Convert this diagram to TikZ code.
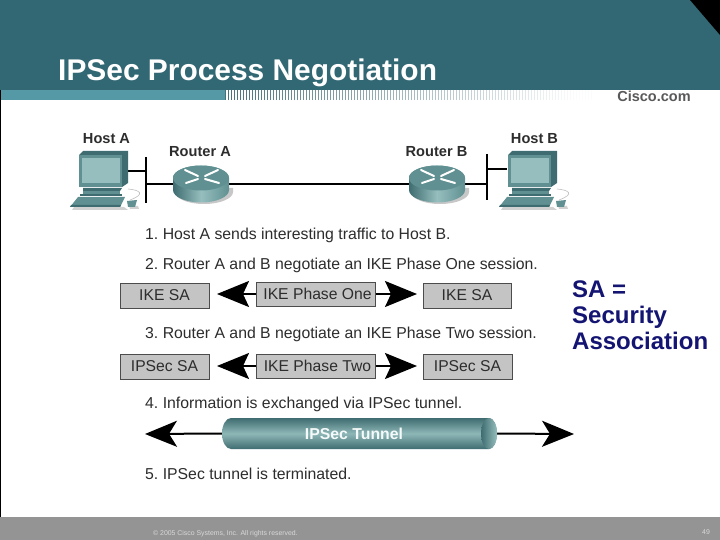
\documentclass[tikz,border=0pt]{standalone}
\usepackage{fontspec}
\setmainfont{Liberation Sans}
\usetikzlibrary{arrows.meta}
\definecolor{hdr}{RGB}{50,103,116}
\definecolor{strip}{RGB}{84,153,165}
\definecolor{foot}{RGB}{148,148,148}
\definecolor{boxg}{RGB}{196,196,196}
\definecolor{tealD}{RGB}{62,108,112}
\definecolor{tealM}{RGB}{96,144,146}
\definecolor{tealL}{RGB}{150,190,190}
\definecolor{navy}{RGB}{20,20,115}
\definecolor{txt}{RGB}{45,45,45}
\tikzset{
  sabox/.style={draw=black!70,line width=1pt,fill=boxg,minimum height=24pt,inner sep=0pt,font=\fontsize{15.7}{16}\selectfont,text=txt},
  steptext/.style={anchor=base west,inner sep=0pt,font=\frenchspacing\fontsize{15.8}{16}\selectfont,text=txt},
  devlabel/.style={inner sep=0pt,font=\bfseries\fontsize{14.6}{15}\selectfont,text=txt},
  link/.style={line width=2pt,black},
  dbl/.style={line width=2pt,black,-{Stealth[length=32pt,width=26pt,inset=6pt]}},
  slabel/.style={anchor=base west,inner sep=0pt,font=\bfseries\fontsize{24}{24}\selectfont,text=navy},
  ghost/.style={inner sep=0pt,outer sep=0pt}
}
\newcommand{\routerdraw}[2]{%
  \begin{scope}[shift={(#1,#2)}]
    \fill[black!22] (-26,4) -- (-26,8) arc[x radius=29,y radius=12,start angle=180,end angle=0] -- (32,4) -- cycle;
    \shade[left color=tealD,right color=tealM,middle color=tealL]
      (-28,-6) -- (-28,6) arc[x radius=28,y radius=12.5,start angle=180,end angle=0] -- (28,-6) arc[x radius=28,y radius=12.5,start angle=0,end angle=-180] -- cycle;
    \fill[tealM] (0,-6) ellipse[x radius=28,y radius=12.5];
    \draw[white,line width=2pt,line cap=round] (-16,-14) -- (-3,-8) (4,-5) -- (18,-1) (-15,-1) -- (-3,-5) (4,-8) -- (17,-14);
  \end{scope}}
\newcommand{\hostdraw}[1]{%
  \begin{scope}[shift={(#1,0)}]
    \draw[black!25,line width=.6pt] (128,189) .. controls (140,190) and (146,194) .. (130,200);
    \fill[black!18] (74,207) -- (124,207) -- (128,210) -- (72,210) -- cycle;
    \fill[black!18] (129,206) -- (138,206) -- (139,209) -- (130,209) -- cycle;
    \fill[tealD] (83,151) -- (128,151) -- (128,183) -- (122,187) -- (79,187) -- (79,155) -- cycle;
    \fill[tealM] (79,155) -- (122,155) -- (122,187) -- (79,187) -- cycle;
    \fill[tealL] (82,158) -- (120,158) -- (120,183) -- (82,183) -- cycle;
    \fill[tealD] (83,188) -- (122,188) -- (120,191) -- (83,191) -- cycle;
    \fill[tealM] (83,191) -- (120,191) -- (120,194) -- (83,194) -- cycle;
    \fill[tealD] (80,194) -- (122,194) -- (122,196.5) -- (80,196.5) -- cycle;
    \fill[tealM] (78,197) -- (125,197) -- (120,207) -- (70,207) -- cycle;
    \fill[tealD] (71,205) -- (121,205) -- (120,207) -- (70,207) -- cycle;
    \fill[tealM] (127,201) -- (137,200) -- (135,207) -- (128,207) -- cycle;
  \end{scope}}
\begin{document}
\begin{tikzpicture}[x=1pt,y=-1pt]
\useasboundingbox (0,0) rectangle (720,540);
% slide frame
\fill[white] (0,0) rectangle (720,540);
\fill[hdr] (0,0) rectangle (720,90);
\fill[black] (690,0) -- (720,0) -- (720,35) -- cycle;
\fill[strip] (0,90) rectangle (225,100);
\foreach \i in {0,...,122} {
  \pgfmathsetmacro{\op}{max(0.02,0.95-\i/125)}
  \fill[strip!70!black,opacity=\op] (225+3*\i,90) rectangle (226.4+3*\i,100);
}
\fill[black] (0,90) rectangle (1,517);
\fill[foot] (0,517) rectangle (720,540);
\node (title) [anchor=base west,inner sep=0pt,text=white,font=\bfseries\fontsize{29.9}{30}\selectfont] at (58,81) {IPSec Process Negotiation};
\node (brand) [inner sep=0pt,text=black!65,font=\bfseries\fontsize{14.5}{15}\selectfont] at (654,96) {Cisco.com};
\node (copy) [anchor=base west,inner sep=0pt,text=black!15,font=\fontsize{6.9}{7}\selectfont] at (153,535) {© 2005 Cisco Systems, Inc. All rights reserved.};
\node (pageno) [inner sep=0pt,text=black!15,font=\fontsize{6.9}{7}\selectfont] at (706,532) {49};
% topology
\node (hostA) [ghost,minimum width=50pt,minimum height=35pt] at (103,170) {};
\node (hostB) [ghost,minimum width=48pt,minimum height=35pt] at (531,169) {};
\node (routerA) [ghost,minimum width=56pt,minimum height=38pt] at (201,184) {};
\node (routerB) [ghost,minimum width=56pt,minimum height=38pt] at (437,184) {};
\coordinate (barAt) at (146,157);
\coordinate (barAb) at (146,203);
\coordinate (barBt) at (486.5,154);
\coordinate (barBb) at (486.5,200);
\draw[link] (barAt) -- (barAb);
\draw[link] (barBt) -- (barBb);
\draw[link] (hostA.east |- 0,171) -- (barAt |- 0,171);
\draw[link] (barAt |- routerA) -- (routerA);
\draw[link] (routerA) -- (routerB);
\draw[link] (routerB) -- (barBt |- routerB);
\draw[link] (barBt |- 0,169) -- (hostB.west |- 0,169);
\hostdraw{0}
\hostdraw{429}
\routerdraw{201}{184}
\routerdraw{437}{184}
\node (lblHA) [devlabel] at (106.5,139) {Host A};
\node (lblRA) [devlabel] at (200,152) {Router A};
\node (lblRB) [devlabel] at (436.5,152) {Router B};
\node (lblHB) [devlabel] at (534.5,139) {Host B};
% steps
\node (s1) [steptext] at (145,239.5) {1. Host A sends interesting traffic to Host B.};
\node (s2) [steptext] at (145,269) {2. Router A and B negotiate an IKE Phase One session.};
\node (s3) [steptext] at (145,338) {3. Router A and B negotiate an IKE Phase Two session.};
\node (s4) [steptext] at (145,408) {4. Information is exchanged via IPSec tunnel.};
\node (s5) [steptext] at (145,479.5) {5. IPSec tunnel is terminated.};
% row one
\node (ikeL) [sabox,minimum width=89pt,minimum height=25pt] at (164.5,295.5) {IKE SA};
\node (ikeR) [sabox,minimum width=88pt,minimum height=25pt] at (467,295.5) {IKE SA};
\node (ikeC) [sabox,minimum width=119pt] at (315.5,294) {\hspace*{4pt}IKE Phase One};
\coordinate (t1L) at (217,294);
\coordinate (t1R) at (417,294);
\draw[dbl] (ikeC.west) -- (t1L);
\draw[dbl] (ikeC.east) -- (t1R);
% row two
\node (ipsL) [sabox,minimum width=89pt,minimum height=25pt] at (164.5,366.5) {IPSec SA};
\node (ipsR) [sabox,minimum width=89pt,minimum height=25pt] at (467.5,366.5) {IPSec SA};
\node (ikeD) [sabox,minimum width=119pt] at (315.5,366) {\hspace*{4pt}IKE Phase Two};
\coordinate (t2L) at (217,366);
\coordinate (t2R) at (417,366);
\draw[dbl] (ikeD.west) -- (t2L);
\draw[dbl] (ikeD.east) -- (t2R);
% tunnel
\node (tunnel) [ghost,minimum width=275pt,minimum height=31pt] at (359.5,433.5) {};
\coordinate (t3L) at (145,434);
\coordinate (t3R) at (574,434);
\draw[dbl,-{Stealth[length=32pt,width=26pt,inset=8pt]}] (tunnel.center -| tunnel.west) -- (t3L);
\draw[dbl,-{Stealth[length=32pt,width=26pt,inset=8pt]}] (tunnel.center -| tunnel.east) -- (t3R);
\shade[top color=tealD,bottom color=tealD,middle color=tealL!85!tealM]
  (231,418) -- (489,418) arc[x radius=8,y radius=15.5,start angle=-90,end angle=90] -- (231,449)
  arc[x radius=9,y radius=15.5,start angle=90,end angle=270] -- cycle;
\shade[left color=tealD,right color=tealL] (489,433.5) ellipse[x radius=8,y radius=15.5];
\node (tlabel) [inner sep=0pt,text=white!90!tealL,font=\bfseries\fontsize{15.8}{16}\selectfont] at (354,434) {IPSec Tunnel};
% side note
\node (sa1) [slabel] at (572,297) {SA =};
\node (sa2) [slabel] at (572,323) {Security};
\node (sa3) [slabel] at (572,349) {Association};
\end{tikzpicture}
\end{document}
